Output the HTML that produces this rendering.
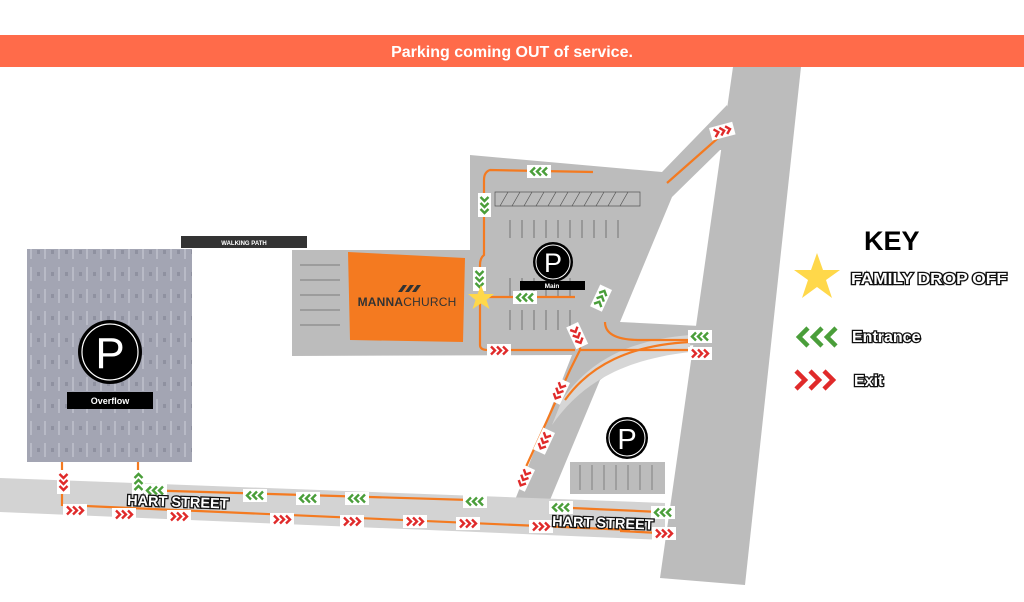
<!DOCTYPE html>
<html><head><meta charset="utf-8"><style>
html,body{margin:0;padding:0;background:#fff;}
svg{display:block;font-family:"Liberation Sans",sans-serif;}
.ol{font-weight:bold;fill:#fff;stroke:#111;stroke-width:2.6px;paint-order:stroke;}
</style></head><body>
<svg width="1024" height="602" viewBox="0 0 1024 602" xmlns="http://www.w3.org/2000/svg">
<defs>
<g id="ex"><rect x="0" y="0" width="24" height="13" fill="#fff"/><path d="M4 2.5l4 4-4 4M10 2.5l4 4-4 4M16 2.5l4 4-4 4" stroke="#e02a2a" stroke-width="2.4" fill="none"/></g>
<g id="en"><rect x="0" y="0" width="24" height="13" fill="#fff"/><path d="M8 2.5l-4 4 4 4M14 2.5l-4 4 4 4M20 2.5l-4 4 4 4" stroke="#4a9e3a" stroke-width="2.4" fill="none"/></g>
<pattern id="tex" width="14" height="22" patternUnits="userSpaceOnUse"><rect width="14" height="22" fill="#a3a5b3"/><rect x="2" y="3" width="2" height="14" fill="#b8bac6"/><rect x="9" y="8" width="3" height="4" fill="#8f91a0"/></pattern>
</defs>
<rect x="0" y="35" width="1024" height="32" fill="#ff6b4a"/>
<text x="512" y="57" text-anchor="middle" font-size="16" font-weight="bold" fill="#fff">Parking coming OUT of service.</text>

<polygon points="733,67 801,67 745,585 660,578" fill="#bcbcbc"/>
<polygon points="727,105 740,150 720,150 672,197 650,190 662,172" fill="#bcbcbc"/>
<polygon points="470,155 662,172 672,197 620,322 700,326 695,345 640,350 600,380 550,500 515,500 572,355 292,356 292,250 470,250" fill="#bcbcbc"/>
<path d="M690,335 C630,340 590,360 562,400 L552,425 C580,385 620,360 690,352 Z" fill="#d6d6d6"/>
<rect x="570" y="462" width="95" height="32" fill="#bcbcbc"/>
<g stroke="#666" stroke-width="0.7">
<line x1="580" y1="465" x2="580" y2="490"/><line x1="592" y1="465" x2="592" y2="490"/><line x1="604" y1="465" x2="604" y2="490"/><line x1="616" y1="465" x2="616" y2="490"/><line x1="628" y1="465" x2="628" y2="490"/><line x1="640" y1="465" x2="640" y2="490"/><line x1="652" y1="465" x2="652" y2="490"/>
<line x1="300" y1="265" x2="340" y2="265"/><line x1="300" y1="280" x2="340" y2="280"/><line x1="300" y1="295" x2="340" y2="295"/><line x1="300" y1="310" x2="340" y2="310"/><line x1="300" y1="325" x2="340" y2="325"/>
</g>
<g stroke="#555" stroke-width="0.7">
<polygon points="495,192 640,192 640,206 495,206" fill="none"/>
<path d="M500,206l8,-14M512,206l8,-14M524,206l8,-14M536,206l8,-14M548,206l8,-14M560,206l8,-14M572,206l8,-14M584,206l8,-14M596,206l8,-14M608,206l8,-14M620,206l8,-14"/>
<path d="M510,220v18M522,220v18M534,220v18M546,220v18M558,220v18M570,220v18M582,220v18M594,220v18M606,220v18M618,220v18"/>
<path d="M510,278v18M522,278v18M534,278v18M546,278v18M558,278v18M570,278v18"/>
<path d="M510,310v20M522,310v20M534,310v20M546,310v20M558,310v20M570,310v20"/>
</g>
<polygon points="0,478 665,503 665,540 0,512" fill="#d3d3d3"/>
<rect x="27" y="249" width="165" height="213" fill="url(#tex)"/>
<rect x="181" y="236" width="126" height="12" fill="#333"/>
<text x="244" y="245" text-anchor="middle" font-size="6" font-weight="bold" fill="#fff">WALKING PATH</text>
<polygon points="348,252 465,258 463,342 350,340" fill="#f47a20"/>
<text x="407" y="306" text-anchor="middle" font-size="12" fill="#333" letter-spacing="0.2"><tspan font-weight="bold">MANNA</tspan>CHURCH</text>
<path d="M398,292l5,-7h4l-5,7zM405,292l5,-7h4l-5,7zM412,292l5,-7h4l-5,7z" fill="#333"/>

<g stroke="#f47a20" stroke-width="2.2" fill="none">
<path d="M593,172 L490,170 Q484,172 484,180 L484,255 Q480,258 480,265 L480,345 Q480,350 488,350 L575,350"/>
<path d="M481,297 L575,297"/>
<path d="M718,138 L667,183"/>
<path d="M580,330 L580,350 L570,370 L520,480"/>
<path d="M605,322 Q605,340 640,340 L690,340"/>
<path d="M580,350 L690,350"/>
<path d="M690,342 C630,345 590,365 565,400"/>
<path d="M62,462 L62,505 L630,530"/>
<path d="M138,462 L138,490 L470,500"/>
<path d="M550,507 L660,512"/>
<path d="M620,531 L660,533"/>
</g>
<use href="#en" x="527" y="165"/>
<use href="#en" transform="translate(478,198) rotate(-90 6.5 6.5) translate(-6 0)"/>
<use href="#en" transform="translate(473,272) rotate(-90 6.5 6.5) translate(-6 0)"/>
<use href="#en" x="513" y="291"/>
<use href="#ex" x="487" y="344"/>
<use href="#ex" transform="translate(709,128) rotate(-15)"/>
<use href="#en" transform="translate(612,290) rotate(115)"/>
<use href="#ex" transform="translate(578,322) rotate(65)"/>
<use href="#ex" transform="translate(570,383) rotate(115)"/>
<use href="#ex" transform="translate(555,433) rotate(115)"/>
<use href="#ex" transform="translate(535,470) rotate(115)"/>
<use href="#en" x="688" y="330"/>
<use href="#ex" x="688" y="347"/>
<use href="#ex" transform="translate(70,470) rotate(90)"/>
<use href="#en" transform="translate(132,476) rotate(90 6.5 6.5) translate(-6 0)"/>
<use href="#en" x="143" y="484"/><use href="#en" x="243" y="489"/><use href="#en" x="296" y="492"/><use href="#en" x="345" y="492"/><use href="#en" x="463" y="495"/>
<use href="#ex" x="63" y="504"/><use href="#ex" x="112" y="508"/><use href="#ex" x="167" y="510"/><use href="#ex" x="270" y="513"/><use href="#ex" x="340" y="515"/><use href="#ex" x="403" y="515"/><use href="#ex" x="456" y="517"/><use href="#ex" x="529" y="520"/>
<use href="#en" x="549" y="501"/><use href="#en" x="651" y="506"/><use href="#ex" x="652" y="527"/>
<text x="127" y="505" class="ol" font-size="14.5" transform="rotate(2 128 505)">HART STREET</text>
<text x="552" y="526" class="ol" font-size="14.5" transform="rotate(2 553 525)">HART STREET</text>

<polygon points="481,285 484.5,294 494,294 486.5,300 489.5,309 481,303.5 472.5,309 475.5,300 468,294 477.5,294" fill="#ffd84a"/>
<g>
<circle cx="553" cy="262" r="20" fill="#000"/><circle cx="553" cy="262" r="17" fill="none" stroke="#fff" stroke-width="1"/>
<text x="553" y="272" text-anchor="middle" font-size="27" fill="#fff">P</text>
<rect x="520" y="281" width="65" height="9" fill="#000"/><text x="552" y="288" text-anchor="middle" font-size="6.5" font-weight="bold" fill="#fff">Main</text>
<circle cx="627" cy="438" r="21" fill="#000"/><circle cx="627" cy="438" r="18" fill="none" stroke="#fff" stroke-width="1"/>
<text x="627" y="449" text-anchor="middle" font-size="29" fill="#fff">P</text>
<circle cx="110" cy="352" r="32" fill="#000"/><circle cx="110" cy="352" r="28" fill="none" stroke="#fff" stroke-width="1.2"/>
<text x="110" y="368" text-anchor="middle" font-size="44" fill="#fff">P</text>
<rect x="67" y="392" width="86" height="17" fill="#000"/><text x="110" y="404" text-anchor="middle" font-size="9" font-weight="bold" fill="#fff">Overflow</text>
</g>
<text x="864" y="250" font-size="27" font-weight="bold" fill="#000">KEY</text>
<polygon points="817,253 823,270 840,270 826,280 832,298 817,287 802,298 808,280 794,270 811,270" fill="#ffd84a"/>
<text x="851" y="284" class="ol" font-size="15.5" textLength="156" lengthAdjust="spacingAndGlyphs">FAMILY DROP OFF</text>
<path d="M808,328l-9,9 9,9M822,328l-9,9 9,9M836,328l-9,9 9,9" stroke="#4a9e3a" stroke-width="4.5" fill="none"/>
<text x="852" y="342" class="ol" font-size="16">Entrance</text>
<path d="M796,371l9,9-9,9M810,371l9,9-9,9M824,371l9,9-9,9" stroke="#e02a2a" stroke-width="4.5" fill="none"/>
<text x="854" y="386" class="ol" font-size="16">Exit</text>
</svg>
</body></html>
